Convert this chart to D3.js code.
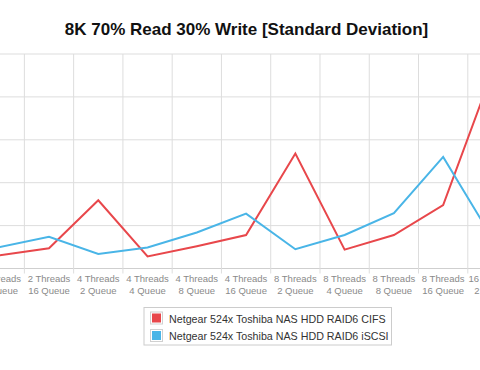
<!DOCTYPE html>
<html>
<head>
<meta charset="utf-8">
<script src="https://cdn.jsdelivr.net/npm/d3@7"></script>
<style>
  body { margin: 0; background: #fff; }
  svg { display: block; font-family: "Liberation Sans", Arial, Helvetica, sans-serif; }
</style>
</head>
<body>
<div id="vis"></div>
<script>
// categories (only the part of the chart that is in view)
const categories = [
  "2 Threads|8 Queue", "2 Threads|16 Queue",
  "4 Threads|2 Queue", "4 Threads|4 Queue", "4 Threads|8 Queue", "4 Threads|16 Queue",
  "8 Threads|2 Queue", "8 Threads|4 Queue", "8 Threads|8 Queue", "8 Threads|16 Queue",
  "16 Threads|2 Queue"
];

const cifsValues  = [3.1, 4.7, 15.9, 2.8, 5.2, 7.8, 26.8, 4.4, 7.8, 14.8, 45.9];
const iscsiValues = [5.0, 7.4, 3.4, 4.9, 8.4, 12.8, 4.5, 7.8, 12.9, 26.0, 7.0];

const seriesNames = [
  "Netgear 524x Toshiba NAS HDD RAID6 CIFS",
  "Netgear 524x Toshiba NAS HDD RAID6 iSCSI"
];
const colors = ["#e8474b", "#49b5e7"];

const yTicks = [0, 10, 20, 30, 40, 50];

const W = 480, H = 370;
const plotTop = 54, plotBottom = 268.5;
const bandW = 49.27;
const x0 = -24.9;

const svg = d3.select("#vis").append("svg")
  .attr("width", W).attr("height", H);

// title
svg.append("text")
  .attr("x", 246.5).attr("y", 35)
  .attr("text-anchor", "middle")
  .style("font-size", "17px")
  .style("font-weight", "bold")
  .attr("fill", "#111")
  .text("8K 70% Read 30% Write [Standard Deviation]");

const xScale = d3.scaleBand()
  .domain(categories)
  .range([x0, x0 + bandW * categories.length])
  .paddingInner(0).paddingOuter(0);

const yScale = d3.scaleLinear()
  .domain([0, 50])
  .range([plotBottom, plotTop]);

// horizontal grid
svg.append("g")
  .selectAll("line")
  .data(yTicks)
  .join("line")
  .attr("x1", 0).attr("x2", W)
  .attr("y1", d => yScale(d)).attr("y2", d => yScale(d))
  .attr("stroke", d => d === 0 ? "#cfcfcf" : "#dddddd")
  .attr("stroke-width", 1);

// vertical grid at band edges
svg.append("g")
  .selectAll("line")
  .data(categories)
  .join("line")
  .attr("x1", d => xScale(d) + bandW).attr("x2", d => xScale(d) + bandW)
  .attr("y1", plotTop).attr("y2", plotBottom + 5)
  .attr("stroke", "#dddddd")
  .attr("stroke-width", 1);

// x labels (two lines)
const lab = svg.append("g")
  .selectAll("text")
  .data(categories)
  .join("text")
  .attr("text-anchor", "middle")
  .attr("fill", "#8a8a8a")
  .style("font-size", "9.5px");
lab.append("tspan")
  .attr("x", d => xScale(d) + bandW / 2).attr("y", 282)
  .text(d => d.split("|")[0]);
lab.append("tspan")
  .attr("x", d => xScale(d) + bandW / 2).attr("y", 293.5)
  .text(d => d.split("|")[1]);

// lines
const line = d3.line()
  .x((d, i) => xScale(categories[i]) + bandW / 2)
  .y(d => yScale(d));

[cifsValues, iscsiValues].forEach((vals, k) => {
  svg.append("path")
    .datum(vals)
    .attr("fill", "none")
    .attr("stroke", colors[k])
    .attr("stroke-width", 2)
    .attr("stroke-linejoin", "miter")
    .attr("d", line);
});

// legend
const leg = svg.append("g").attr("transform", "translate(144,307.5)");
leg.append("rect")
  .attr("width", 247.5).attr("height", 37.5)
  .attr("fill", "#fff")
  .attr("stroke", "#cccccc");

seriesNames.forEach((name, i) => {
  const g = leg.append("g").attr("transform", `translate(6.5,${4.5 + i * 17.5})`);
  g.append("rect")
    .attr("width", 12).attr("height", 12)
    .attr("fill", "#fff").attr("stroke", "#d0d0d0");
  g.append("rect")
    .attr("x", 1.5).attr("y", 1.5)
    .attr("width", 9).attr("height", 9)
    .attr("fill", colors[i]);
  g.append("text")
    .attr("x", 18.5).attr("y", 10.5)
    .attr("fill", "#333")
    .style("font-size", "10.7px")
    .text(name);
});
</script>
</body>
</html>
